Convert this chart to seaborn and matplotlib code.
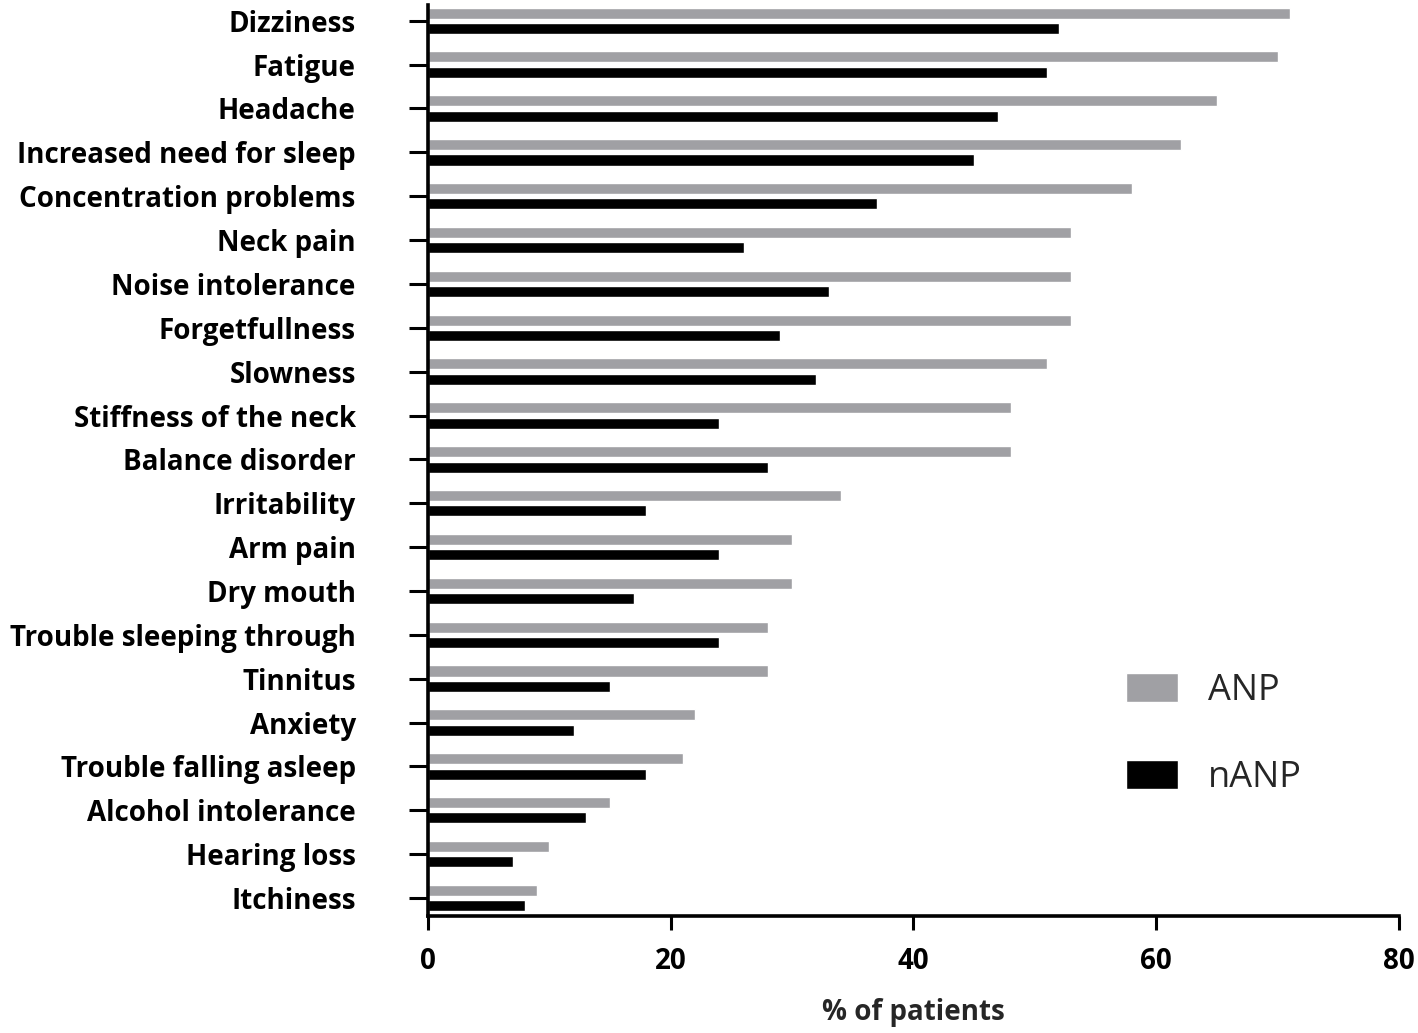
import numpy as np
import pandas as pd
import matplotlib
matplotlib.use("Agg")
import matplotlib.pyplot as plt
import seaborn as sns

# symptom data (% of patients)
symptoms = [
    "Dizziness", "Fatigue", "Headache", "Increased need for sleep",
    "Concentration problems", "Neck pain", "Noise intolerance",
    "Forgetfullness", "Slowness", "Stiffness of the neck",
    "Balance disorder", "Irritability", "Arm pain", "Dry mouth",
    "Trouble sleeping through", "Tinnitus", "Anxiety",
    "Trouble falling asleep", "Alcohol intolerance", "Hearing loss",
    "Itchiness",
]
anp = [71, 70, 65, 62, 58, 53, 53, 53, 51, 48, 48, 34, 30, 30, 28, 28, 22, 21, 15, 10, 9]
nanp = [52, 51, 47, 45, 37, 26, 33, 29, 32, 24, 28, 18, 24, 17, 24, 15, 12, 18, 13, 7, 8]
groups = ["ANP", "nANP"]
x_ticks = [0, 20, 40, 60, 80]

df = pd.DataFrame({
    "symptom": symptoms * 2,
    "pct": anp + nanp,
    "group": ["ANP"] * len(anp) + ["nANP"] * len(nanp),
})

sns.set_theme(style="white")
plt.rcParams["font.family"] = ["Open Sans", "DejaVu Sans"]

fig = plt.figure(figsize=(14.18, 10.33), dpi=100)
ax = fig.add_axes([0.3018, 0.1133, 0.6848, 0.8819])

sns.barplot(
    data=df, y="symptom", x="pct", hue="group", order=symptoms,
    hue_order=groups, palette=["#a0a0a4", "#000000"],
    width=0.7, gap=0.28, orient="h", ax=ax, saturation=1, legend=True,
)

ax.set_xlim(0, 80)
ax.set_ylim(20.41, -0.36)
ax.set_xticks(x_ticks)
ax.set_xlabel("% of patients", fontsize=20, fontweight="bold", labelpad=16)
ax.set_ylabel("")

for sp in ["top", "right"]:
    ax.spines[sp].set_visible(False)
for sp in ["left", "bottom"]:
    ax.spines[sp].set_linewidth(2.6)
    ax.spines[sp].set_color("black")

ax.tick_params(axis="y", length=14, width=2.2, left=True, labelsize=20, pad=38, colors="black")
ax.tick_params(axis="x", length=10, width=2.2, bottom=True, labelsize=20, pad=12, colors="black")
for lab in ax.get_yticklabels() + ax.get_xticklabels():
    lab.set_fontweight("bold")

ax.legend(
    loc="center left", bbox_to_anchor=(0.685, 0.199), frameon=False,
    fontsize=26, handlelength=1.44, handleheight=0.85, labelspacing=1.4,
    handletextpad=0.83, title=None,
)

fig.savefig("out.png", dpi=100)
